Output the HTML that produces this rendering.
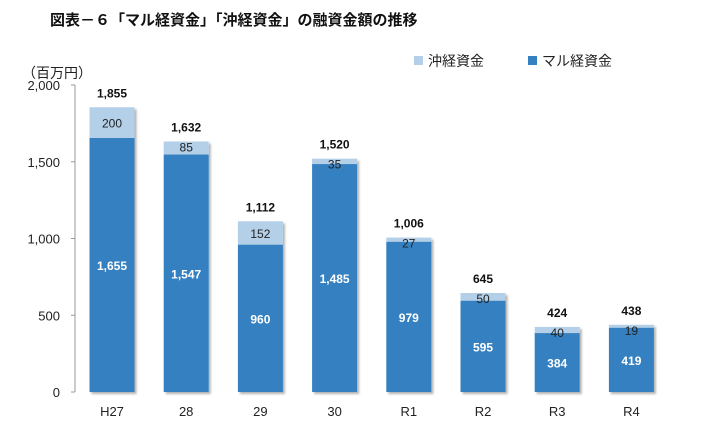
<!DOCTYPE html>
<html><head><meta charset="utf-8"><style>
body{margin:0;background:#fff;width:722px;height:434px;overflow:hidden;font-family:"Liberation Sans","Noto Sans CJK JP",sans-serif}
</style></head><body>
<svg width="722" height="434" xmlns="http://www.w3.org/2000/svg" font-family="Liberation Sans, Noto Sans CJK JP, sans-serif">
<defs><filter id="sh" x="-10%" y="-10%" width="130%" height="130%"><feDropShadow dx="2" dy="2" stdDeviation="1" flood-color="#000" flood-opacity="0.3"/></filter></defs>
<text x="50" y="25" font-size="15" font-weight="bold" fill="#111">図表－６「マル経資金」「沖経資金」の融資金額の推移</text>
<text x="22" y="78" font-size="14" fill="#222">（百万円）</text>
<g>
<rect x="414" y="56" width="9" height="9" fill="#b4cfe8"/>
<text x="428" y="66" font-size="14" fill="#222">沖経資金</text>
<rect x="528" y="56" width="9" height="9" fill="#3580c0"/>
<text x="542" y="66" font-size="14" fill="#222">マル経資金</text>
</g>
<line x1="75" y1="85" x2="75" y2="392" stroke="#999"/>
<g id="ticks"></g>
<g id="bars"></g>
</svg>
<script>
const categories=["H27","28","29","30","R1","R2","R3","R4"];
const maruValues=[1655,1547,960,1485,979,595,384,419];
const okiValues=[200,85,152,35,27,50,40,19];
const totalValues=[1855,1632,1112,1520,1006,645,424,438];
const yTicks=[0,500,1000,1500,2000];
const yTickLabels=["0","500","1,000","1,500","2,000"];
const NS="http://www.w3.org/2000/svg";
const y0=392,yTop=85,yMax=2000,x0=75,step=74.2,bw=45;
function yS(v){return y0-v*(y0-yTop)/yMax;}
function xC(i){return x0+37+i*step;}
function fmt(v){return v.toLocaleString("en-US");}
function mk(tag,attrs,parent,txt){const e=document.createElementNS(NS,tag);for(const k in attrs)e.setAttribute(k,attrs[k]);if(txt!==undefined)e.textContent=txt;parent.appendChild(e);return e;}
const tg=document.getElementById("ticks");
yTicks.forEach((v,i)=>{
 const l=mk("line",{x1:71,x2:75,y1:yS(v),y2:yS(v),stroke:"#999"},tg);
 
 
 const t=mk("text",{x:60,y:yS(v)+5,"font-size":13,"text-anchor":"end",fill:"#222"},tg,yTickLabels[i]);
 
 
});
const bg=document.getElementById("bars");
categories.forEach((c,i)=>{
 const cx=xC(i),m=maruValues[i],o=okiValues[i];
 const g=mk("g",{filter:"url(#sh)"},bg);
 
 
 const rm=mk("rect",{x:cx-bw/2,y:yS(m),width:bw,height:y0-yS(m),fill:"#3580c0"},g);
 
 
 const ro=mk("rect",{x:cx-bw/2,y:yS(m+o),width:bw,height:yS(m)-yS(m+o),fill:"#b4cfe8"},g);
 
 
 const tm=mk("text",{x:cx,y:(yS(m)+y0)/2+5,"font-size":12,"font-weight":"bold","text-anchor":"middle",fill:"#fff"},bg,fmt(m));
 
 
 const ty=(yS(m)-yS(m+o))>16?(yS(m)+yS(m+o))/2+5:yS(m+o)+10;
 const to=mk("text",{x:cx,y:ty,"font-size":12,"text-anchor":"middle",fill:"#222"},bg,fmt(o));
 
 
 const tt=mk("text",{x:cx,y:yS(totalValues[i])-10,"font-size":12,"font-weight":"bold","text-anchor":"middle",fill:"#111"},bg,fmt(totalValues[i]));
 
 
 const tc=mk("text",{x:cx,y:416,"font-size":13,"text-anchor":"middle",fill:"#222"},bg,c);
 
 
});
</script>
</body></html>
